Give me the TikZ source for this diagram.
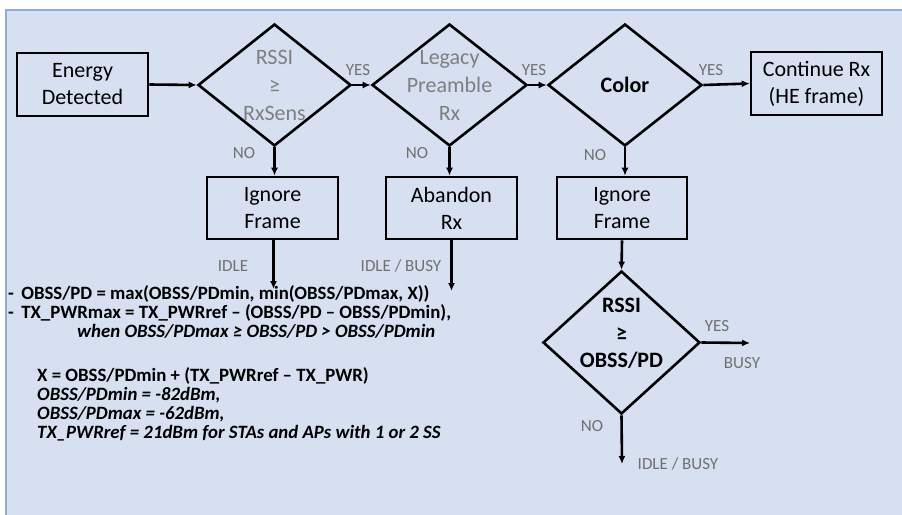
\documentclass[tikz,border=0pt]{standalone}
\usepackage{fontspec}
\setmainfont{Carlito}
\usetikzlibrary{shapes.geometric,arrows.meta}
\definecolor{bgblue}{RGB}{214,224,241}
\definecolor{bdblue}{RGB}{143,170,220}
\definecolor{txtgray}{RGB}{127,127,127}
\definecolor{labgray}{RGB}{112,112,112}
\tikzset{
  every node/.style={font=\fontsize{22}{27}\selectfont},
  boxn/.style={draw=black, line width=2.6pt, minimum width=#1, minimum height=62pt, inner sep=0pt, align=center},
  dia/.style={draw=black, line width=2.6pt, diamond, inner sep=0pt},
  conn/.style={line width=2.6pt, -{Latex[length=8pt,width=7pt]}},
  lab/.style={text=labgray, font=\fontsize{17}{20}\selectfont, inner sep=0pt},
  note/.style={anchor=base west, inner sep=0pt, font=\fontsize{18.8}{20}\selectfont\bfseries},
  notei/.style={note, font=\fontsize{18.8}{20}\selectfont\bfseries\itshape},
}
\begin{document}
\begin{tikzpicture}[x=1pt,y=-1pt]
\useasboundingbox (0,0) rectangle (902,514);
\fill[white] (0,0) rectangle (902,514);
\fill[bgblue] (6,10) rectangle (903,515);
\draw[bdblue, line width=1.2pt] (6,515) -- (6,10) -- (903,10);

% nodes
\node[boxn=131pt, minimum height=63pt] (ed) at (82.5,84.5) {Energy\\Detected};
\node[dia, minimum width=153pt, minimum height=122pt,
  label={[align=center, text=txtgray, font=\fontsize{22}{28}\selectfont]center:RSSI\\≥\\RxSens}] (d1) at (274.5,85) {};
\node[dia, minimum width=155pt, minimum height=122pt,
  label={[align=center, text=txtgray, font=\fontsize{22}{28}\selectfont]center:Legacy\\Preamble\\Rx}] (d2) at (449.5,85) {};
\node[dia, minimum width=154pt, minimum height=122pt,
  label={[font=\fontsize{22}{26}\selectfont\bfseries]center:Color}] (d3) at (625,85) {};
\node[boxn=131pt, minimum height=63pt] (cont) at (816.5,83.5) {Continue Rx\\(HE frame)};

\node[boxn=131pt] (if1) at (272.5,208) {Ignore\\Frame};
\node[boxn=131pt] (ab) at (451.5,208) {Abandon\\Rx};
\node[boxn=130pt] (if2) at (622,208) {Ignore\\Frame};

\node[dia, minimum width=157pt, minimum height=143pt,
  label={[align=center, yshift=9pt, font=\fontsize{22}{27.5}\selectfont\bfseries]center:RSSI\\≥\\OBSS/PD}] (d4) at (621.5,342.5) {};

% free ends
\coordinate (e1) at (273.5,289);
\coordinate (e2) at (451.5,291);
\coordinate (e3) at (750,343);
\coordinate (e4) at (622,464);

% connectors
\draw[conn] (ed.east) -- (d1.west);
\draw[conn] (d1.east) -- (d2.west);
\draw[conn] (d2.east) -- (d3.west);
\draw[conn] (d3.east) -- (cont.west);
\draw[conn] (d1.south) -- (d1.south |- if1.north);
\draw[conn] (d2.south) -- (d2.south |- ab.north);
\draw[conn] (d3.south) -- (d3.south |- if2.north);
\draw[conn] (if1.south -| e1) -- (e1);
\draw[conn] (ab.south) -- (e2);
\draw[conn] (if2.south) -- (d4.north);
\draw[conn] (d4.east) -- (e3);
\draw[conn] (d4.south) -- (e4);

% labels
\node[lab] (y1) at (358,70) {YES};
\node[lab] (y2) at (534,70) {YES};
\node[lab] (y3) at (711,70) {YES};
\node[lab] (n1) at (244,153) {NO};
\node[lab] (n2) at (417,153) {NO};
\node[lab] (n3) at (595,155) {NO};
\node[lab] (i1) at (233,266) {IDLE};
\node[lab] (i2) at (401,266) {IDLE / BUSY};
\node[lab] (y4) at (717,326) {YES};
\node[lab] (b4) at (742,363) {BUSY};
\node[lab] (n4) at (592,426) {NO};
\node[lab] (i4) at (678,464) {IDLE / BUSY};

% notes
\node[note] (l1) at (8,299) {-\, OBSS/PD = max(OBSS/PDmin, min(OBSS/PDmax, X))};
\node[note] (l2) at (8,318) {-\, TX\_PWRmax = TX\_PWRref – (OBSS/PD – OBSS/PDmin),};
\node[notei] (l3) at (77,337) {when OBSS/PDmax ≥ OBSS/PD > OBSS/PDmin};
\node[note] (l4) at (37,381) {X = OBSS/PDmin + (TX\_PWRref – TX\_PWR)};
\node[notei] (l5) at (37,400) {OBSS/PDmin = -82dBm,};
\node[notei] (l6) at (37,419) {OBSS/PDmax = -62dBm,};
\node[notei] (l7) at (37,438) {TX\_PWRref = 21dBm for STAs and APs with 1 or 2 SS};
\end{tikzpicture}
\end{document}
